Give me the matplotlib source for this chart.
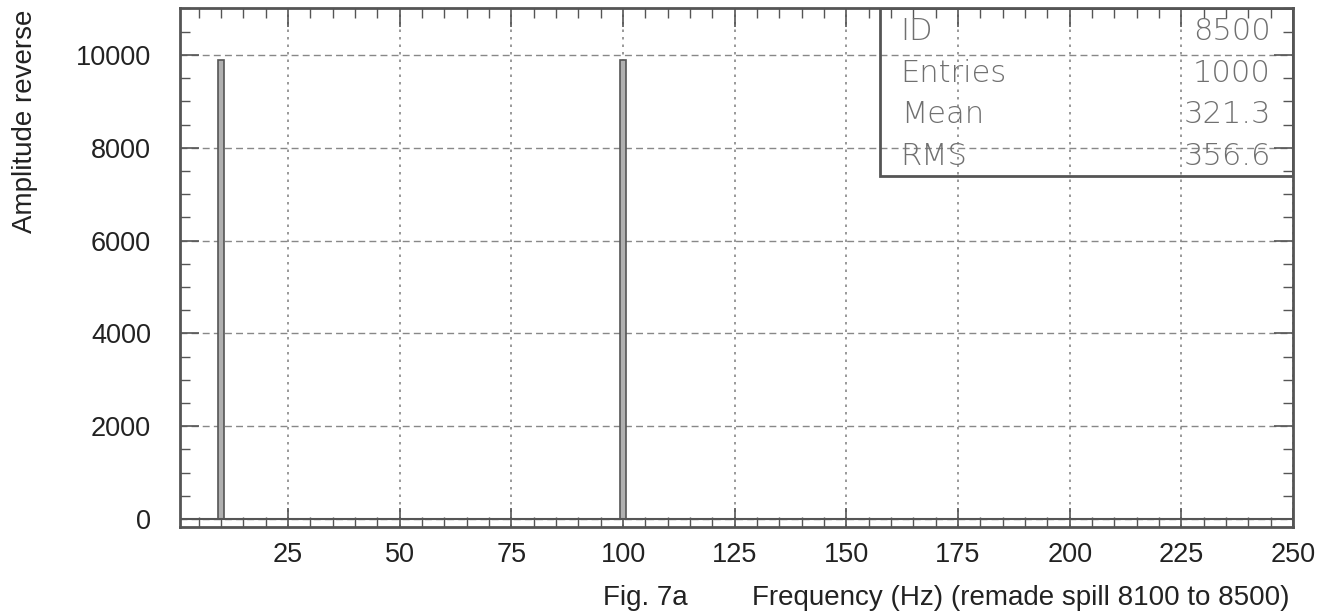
import matplotlib.pyplot as plt
from matplotlib.ticker import MultipleLocator

# spectrum lines (Hz) and amplitudes
freqs = [10, 100]
amps = [9880, 9880]
bin_width = 1.2

x_ticks = [25, 50, 75, 100, 125, 150, 175, 200, 225, 250]
y_ticks = [0, 2000, 4000, 6000, 8000, 10000]

stat_names = ["ID", "Entries", "Mean", "RMS"]
stat_values = ["8500", "1000", "321.3", "356.6"]

plt.rcParams['font.family'] = ['Liberation Sans', 'DejaVu Sans']

fig = plt.figure(figsize=(13.24, 6.15), dpi=100)
ax = fig.add_axes([0.136, 0.143, 0.8406, 0.844])

ax.bar(freqs, amps, bin_width, color="#b0b0b0", edgecolor="#555555", linewidth=1.2, zorder=3)
ax.axhline(0, color="#555555", linewidth=1.5, zorder=4)

ax.set_xlim(0.8, 250)
ax.set_ylim(-172, 11010)
ax.set_xticks(x_ticks)
ax.set_yticks(y_ticks)
ax.xaxis.set_minor_locator(MultipleLocator(5))
ax.yaxis.set_minor_locator(MultipleLocator(500))

ax.tick_params(which='both', direction='in', top=True, right=True, colors="#555555",
               labelcolor="#222222", labelsize=19.5)
ax.tick_params(which='major', length=14, width=1.2)
ax.tick_params(which='minor', length=7, width=1.0)
ax.tick_params(axis='y', which='major', pad=21)
ax.tick_params(axis='x', which='major', pad=11)
for s in ax.spines.values():
    s.set_color("#555555")
    s.set_linewidth(2)

ax.yaxis.grid(True, linestyle=(0, (5, 3)), color="#888888", linewidth=1)
ax.xaxis.grid(True, linestyle=(0, (1.5, 3)), color="#888888", linewidth=1.2)
ax.set_axisbelow(True)

# stats box in the top right corner
ax.add_patch(plt.Rectangle((0.6287, 0.6765), 0.3713, 0.3235, transform=ax.transAxes,
                           fill=False, edgecolor="#555555", linewidth=2, zorder=5))
row_y = [0.955, 0.874, 0.795, 0.714]
for name, val, yy in zip(stat_names, stat_values, row_y):
    ax.text(0.6475, yy, name, transform=ax.transAxes, fontsize=22, color="#707070",
            family="DejaVu Sans", weight="light", va="center", ha="left", zorder=6)
    ax.text(0.98, yy, val, transform=ax.transAxes, fontsize=22, color="#707070",
            family="DejaVu Sans", weight="light", va="center", ha="right", zorder=6)

fig.text(0.4555, 0.028, "Fig. 7a", ha="left", va="center", fontsize=20, color="#222222")
fig.text(0.974, 0.028, "Frequency (Hz) (remade spill 8100 to 8500)",
         ha="right", va="center", fontsize=20, color="#222222")
fig.text(0.019, 0.985, "Amplitude reverse", rotation=90, ha="center", va="top",
         fontsize=20, color="#222222")

fig.savefig("out.png", dpi=100)
